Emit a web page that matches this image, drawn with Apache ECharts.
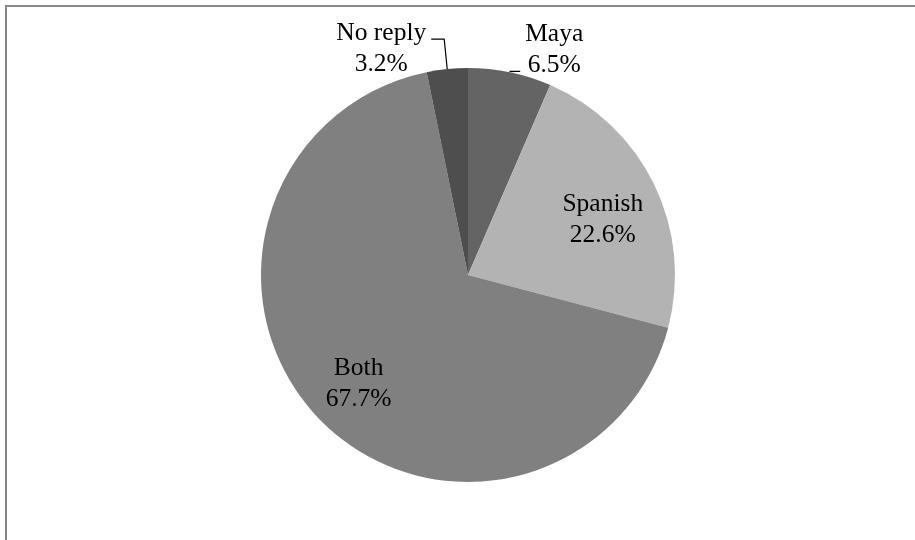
<!DOCTYPE html>
<html>
<head>
<meta charset="utf-8">
<script src="https://cdn.jsdelivr.net/npm/echarts@6/dist/echarts.min.js"></script>
<style>
  html, body { margin: 0; padding: 0; background: #fff; }
  #wrap { position: relative; width: 915px; height: 540px; overflow: hidden; }
  #chart { position: absolute; left: 0; top: 0; width: 915px; height: 540px; }
  #frame { position: absolute; left: 5px; top: 5px; width: 1000px; height: 1000px;
           border-left: 2px solid #888; border-top: 2px solid #888; pointer-events: none; }
</style>
</head>
<body>
<div id="wrap">
  <div id="chart"></div>
  <div id="frame"></div>
</div>
<script>
// Language used by respondents (percent of replies)
const categories = ['Maya', 'Spanish', 'Both', 'No reply'];
const shares = [6.5, 22.6, 67.7, 3.2];
const sliceColors = ['#646464', '#b3b3b3', '#808080', '#4e4e4e'];

const FONT = '"Liberation Serif", "Times New Roman", serif';
const richText = {
  t: { align: 'center', fontFamily: FONT, fontSize: 25.5, lineHeight: 31, color: '#000' }
};

// label styling for each slice: small slices get leader lines outside,
// the large ones are written inside and nudged toward the arc
const labelStyle = {
  'Maya':     { label: { position: 'outside', padding: [0, 0, 44, 0] }, labelLine: { show: true, length: 1, length2: 10 } },
  'Spanish':  { label: { position: 'inside' }, labelLine: { show: false } },
  'Both':     { label: { position: 'inside' }, labelLine: { show: false } },
  'No reply': { label: { position: 'outside', padding: [20, 0, 0, 0] }, labelLine: { show: true, length: 30, length2: 13 } }
};
const insideShift = { 'Spanish': { dx: 39, dy: -9 }, 'Both': { dx: -32, dy: 36 } };

const data = categories.map((name, i) => ({
  name: name,
  value: shares[i],
  itemStyle: { color: sliceColors[i] },
  label: labelStyle[name].label,
  labelLine: labelStyle[name].labelLine
}));

const chart = echarts.init(document.getElementById('chart'), null, { renderer: 'canvas' });
chart.setOption({
  animation: false,
  backgroundColor: '#fff',
  series: [{
    type: 'pie',
    center: [468, 275],
    radius: [0, 207],
    startAngle: 90,
    clockwise: true,
    avoidLabelOverlap: false,
    minAngle: 0,
    itemStyle: { borderWidth: 0 },
    emphasis: { disabled: true },
    label: {
      show: true,
      distanceToLabelLine: 5,
      formatter: p => '{t|' + p.name + '}\n{t|' + p.value.toFixed(1) + '%}',
      rich: richText,
      fontFamily: FONT,
      fontSize: 25.5,
      lineHeight: 31,
      color: '#000'
    },
    labelLine: {
      smooth: false,
      lineStyle: { color: '#000', width: 1.2 }
    },
    labelLayout: function (params) {
      const s = insideShift[categories[params.dataIndex]];
      return s ? { dx: s.dx, dy: s.dy } : {};
    },
    data: data
  }]
});
</script>
</body>
</html>
